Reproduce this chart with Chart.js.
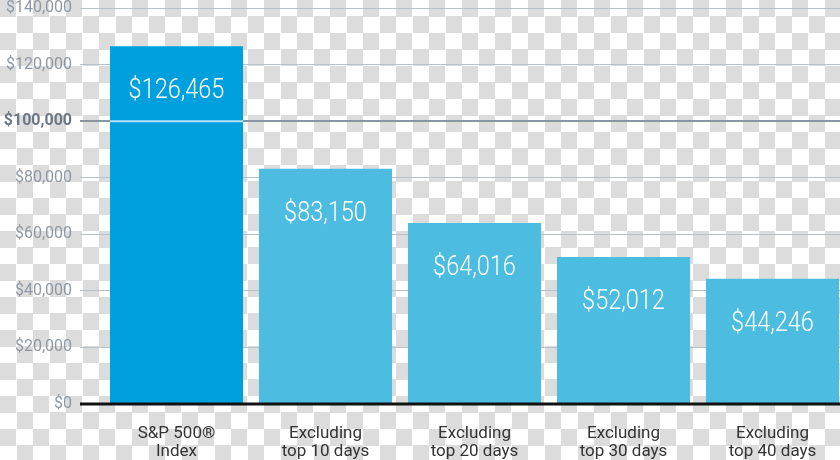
<!DOCTYPE html>
<html>
<head>
<meta charset="utf-8">
<script src="https://cdn.jsdelivr.net/npm/chart.js@4.4.1/dist/chart.umd.min.js"></script>
<style>
  html, body { margin: 0; padding: 0; overflow: hidden; width: 840px; height: 460px; }
  body {
    background-color: #fff;
    background-image: repeating-conic-gradient(#fff 0 25%, #dcdcdc 0 50%);
    background-size: 33px 33px;
    background-position: 0 0;
  }
  #wrap { width: 850px; height: 460px; }
</style>
</head>
<body>
<div id="wrap"><canvas id="c" width="850" height="460"></canvas></div>
<script>
// ---- data ----
const categories = [["S&P 500\u00AE", "Index"], ["Excluding", "top 10 days"], ["Excluding", "top 20 days"], ["Excluding", "top 30 days"], ["Excluding", "top 40 days"]];
const values = [126465, 83150, 64016, 52012, 44246];
const barColors = ["#00a0df", "#4cbde0", "#4cbde0", "#4cbde0", "#4cbde0"];
const yTickValues = [0, 20000, 40000, 60000, 80000, 100000, 120000, 140000];
const highlightValue = 100000;

const fmt = v => "$" + v.toLocaleString("en-US");

const overlayPlugin = {
  id: "overlay",
  afterDatasetsDraw(chart) {
    const ctx = chart.ctx;
    const y = chart.scales.y;
    const meta = chart.getDatasetMeta(0);
    const hy = y.getPixelForValue(highlightValue);
    ctx.save();
    meta.data.forEach((bar, i) => {
      if (values[i] > highlightValue) {
        ctx.strokeStyle = "rgba(190,230,248,0.95)";
        ctx.lineWidth = 2;
        ctx.beginPath();
        ctx.moveTo(bar.x - bar.width / 2, hy);
        ctx.lineTo(bar.x + bar.width / 2, hy);
        ctx.stroke();
      }
    });
    const y0 = y.getPixelForValue(0);
    ctx.strokeStyle = "#111";
    ctx.lineWidth = 3;
    ctx.beginPath();
    ctx.moveTo(80, y0);
    ctx.lineTo(chart.width, y0);
    ctx.stroke();
    ctx.fillStyle = "#ffffff";
    ctx.font = "300 28px Roboto";
    ctx.textAlign = "center";
    ctx.textBaseline = "middle";
    meta.data.forEach((bar, i) => {
      ctx.save();
      ctx.translate(bar.x, bar.y + 45);
      ctx.scale(0.84, 1);
      ctx.fillText(fmt(values[i]), 0, 0);
      ctx.restore();
    });
    ctx.restore();
  }
};

new Chart(document.getElementById("c"), {
  type: "bar",
  data: {
    labels: categories,
    datasets: [{
      data: values,
      backgroundColor: barColors,
      borderWidth: 0,
      categoryPercentage: 1.0,
      barPercentage: 0.893
    }]
  },
  options: {
    responsive: false,
    animation: false,
    layout: { padding: { top: 0, right: 3, left: 0, bottom: 0 } },
    plugins: { legend: { display: false }, tooltip: { enabled: false } },
    scales: {
      x: {
        grid: { display: false },
        border: { display: false },
        ticks: {
          color: "#333333",
          font: { family: "Roboto", size: 17, lineHeight: 1.06 },
          padding: 13,
          maxRotation: 0,
          autoSkip: false
        },
        afterFit(scale) { scale.height = 56; }
      },
      y: {
        min: 0,
        max: 140000,
        afterBuildTicks(scale) { scale.ticks = yTickValues.map(v => ({ value: v })); },
        border: { display: false },
        grid: {
          drawTicks: true,
          tickLength: 22,
          color: ctx => ctx.tick && ctx.tick.value === highlightValue ? "#8796a5" : (ctx.tick && ctx.tick.value === 0 ? "rgba(0,0,0,0)" : "#b8c0c8"),
          lineWidth: ctx => ctx.tick && ctx.tick.value === highlightValue ? 2 : 1
        },
        ticks: {
          padding: 8,
          color: ctx => ctx.tick && ctx.tick.value === highlightValue ? "#6c7886" : "#8e99a5",
          font: ctx => ({ family: "Roboto", size: 16, weight: ctx.tick && ctx.tick.value === highlightValue ? "bold" : "normal" }),
          callback: v => fmt(v)
        },
        afterFit(scale) { scale.width = 102; scale.paddingTop = 8; scale.paddingBottom = 0; }
      }
    }
  },
  plugins: [overlayPlugin]
});
</script>
</body>
</html>
